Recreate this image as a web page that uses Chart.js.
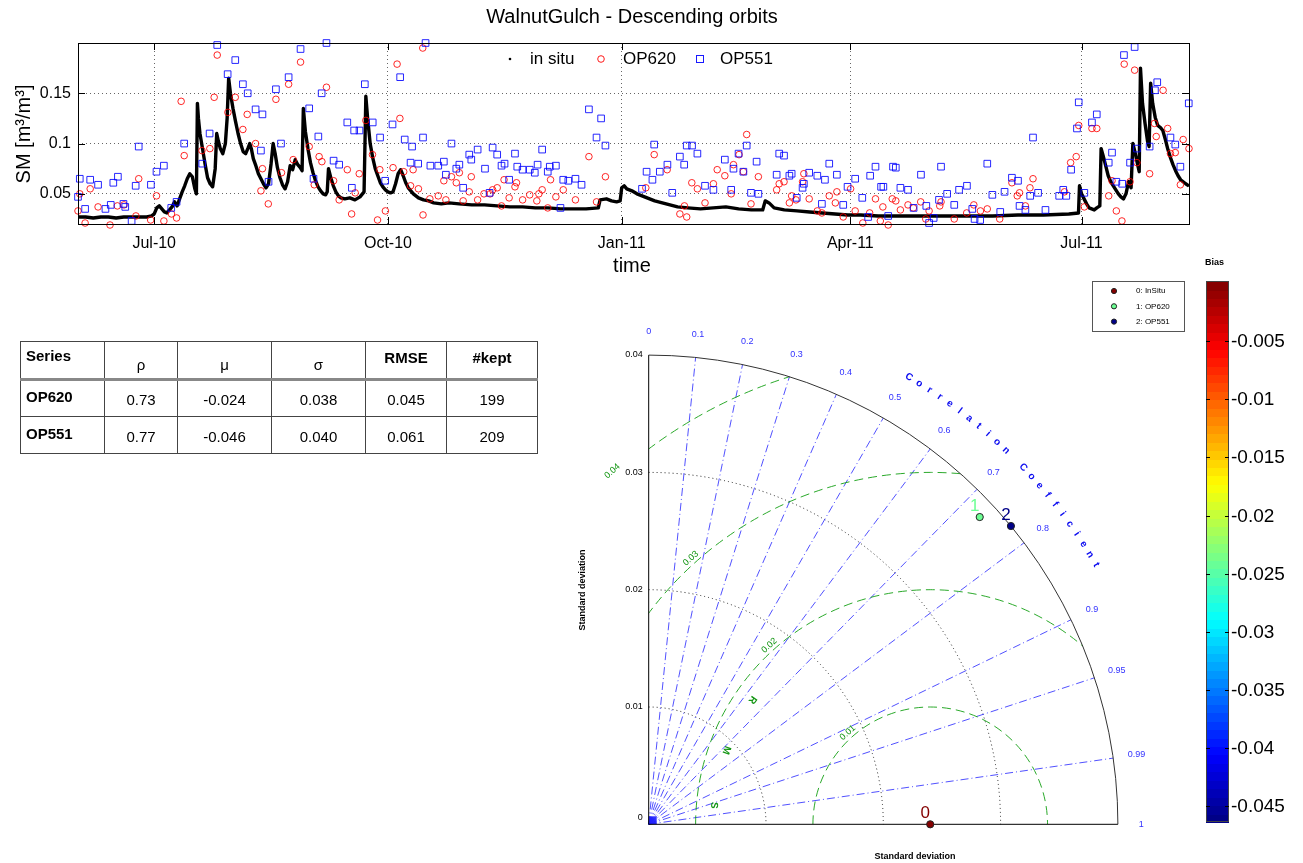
<!DOCTYPE html>
<html>
<head>
<meta charset="utf-8">
<script src="https://cdn.jsdelivr.net/npm/chart.js@4.4.0/dist/chart.umd.min.js"></script>
<style>
  body { margin: 0; background: #fff; width: 1303px; height: 863px; position: relative; overflow: hidden;
         font-family: "Liberation Sans", Arial, sans-serif; }
  canvas { position: absolute; left: 0; top: 0; }
  table.stats { position: absolute; left: 20px; top: 341px; border-collapse: collapse; font-size: 15px; color: #000;
                table-layout: fixed; width: 517px; }
  table.stats td, table.stats th { border: 1px solid #444; padding: 0; text-align: center; box-sizing: border-box; }
  table.stats tr.hdr { height: 38px; }
  table.stats tr.row { height: 37px; }
  table.stats th { font-weight: bold; vertical-align: top; padding-top: 7px; }
  table.stats th.greek { font-weight: normal; vertical-align: middle; padding-top: 8px; }
  table.stats .name { text-align: left; padding-left: 5px; font-weight: bold; }
  table.stats th.name { padding-top: 5px; }
  table.stats td { vertical-align: middle; padding-top: 2px; }
  table.stats td.name { padding-top: 0; padding-bottom: 4px; }
  table.stats tr.hdr th { border-bottom: 3px solid #888; }
</style>
</head>
<body>
<canvas id="taylorChart" width="1303" height="863"></canvas>
<canvas id="tsChart" width="1303" height="285"></canvas>
<table class="stats" id="statsTable"></table>
<script>
// ---- time series (day 0 = 1 Jun 2010) ----
const MONTH_TICKS = [30, 122, 214, 304, 395];
const MONTH_LABELS = ["Jul-10", "Oct-10", "Jan-11", "Apr-11", "Jul-11"];
const SM_TICKS = [0.05, 0.1, 0.15];

const INSITU = [
  [0,.027],[3,.027],[6,.026],[9,.027],[12,.027],[15,.026],[18,.027],[21,.027],[24,.027],[27,.027],[29,.028],
  [30,.030],[31,.036],[32,.038],[33,.035],[34,.032],[35,.031],[36,.034],[37,.037],[38,.042],[39,.038],[40,.045],
  [41,.052],[42,.058],[43,.065],[44,.070],[45,.067],[46,.055],[46.6,.050],[47,.140],[47.4,.125],[48,.110],[49,.095],
  [50,.080],[51,.066],[52,.060],[53,.057],[54,.075],[54.6,.110],[55.2,.103],[56,.095],[57,.090],[58,.100],[58.7,.125],
  [59.3,.165],[60,.150],[61,.135],[62,.122],[63,.110],[64,.100],[65,.092],[66,.090],[67,.096],[67.6,.100],[68.3,.094],
  [69,.085],[70,.078],[71,.070],[72,.065],[73,.060],[74,.056],[75,.060],[76,.080],[76.8,.100],[77.6,.090],[78.5,.076],
  [79.5,.066],[80.5,.059],[81.5,.055],[82.5,.062],[83.5,.078],[84.5,.074],[85.5,.084],[86.5,.079],[87.5,.076],[88.2,.073],
  [88.7,.135],[89.5,.112],[90.5,.095],[91.5,.081],[92.5,.071],[93.5,.063],[94.5,.057],[95.5,.053],[96.5,.050],[97.5,.049],
  [98.1,.052],[98.6,.075],[99.5,.066],[100.5,.058],[101.5,.052],[102.5,.048],[103.5,.046],[105,.045],[107,.046],[109,.044],
  [111,.047],[112.6,.052],[113.3,.147],[114,.125],[115,.100],[116,.086],[117,.075],[118,.068],[119,.061],[120,.057],
  [121,.054],[122,.052],[123,.051],[124,.052],[125,.060],[126,.070],[127,.074],[128,.068],[129,.061],[130,.056],
  [132,.050],[134,.046],[136,.044],[138,.043],[140,.041],[143,.040],[146,.041],[150,.040],[155,.039],[160,.039],
  [165,.038],[170,.037],[175,.037],[180,.036],[185,.036],[190,.035],[195,.035],[200,.035],[204.8,.036],[205.5,.044],
  [208,.045],[210,.043],[212,.042],[213.4,.043],[214,.056],[215,.058],[216,.055],[218,.053],[220,.050],[222,.048],
  [224,.046],[227,.043],[230,.041],[233,.039],[236,.037],[240,.036],[245,.035],[250,.036],[255,.037],[260,.035],
  [265,.034],[269.5,.034],[270.5,.043],[272,.041],[274,.036],[278,.034],[283,.033],[288,.032],[293,.031],[298,.030],
  [303,.029],[308,.029],[315,.028],[322,.028],[330,.028],[340,.028],[350,.028],[360,.028],[370,.029],[380,.029],
  [390,.030],[393.8,.031],[394.2,.058],[395,.050],[396,.045],[397,.040],[398,.036],[399,.035],[400,.034],[401,.036],
  [402.2,.038],[402.7,.095],[403.5,.088],[404.5,.078],[405.5,.068],[406.5,.062],[407.5,.058],[408.5,.054],[409.5,.050],
  [410.5,.047],[411.5,.045],[412.5,.050],[413.5,.062],[414.5,.056],[415.2,.100],[416,.092],[417,.080],[417.7,.072],
  [418.2,.175],[419,.140],[420,.120],[421,.102],[421.6,.097],[422.2,.160],[423,.140],[424,.126],[425,.118],[426,.116],
  [427,.113],[428,.104],[429,.094],[430,.086],[431,.079],[432,.073],[433,.068],[434,.064],[435,.062],[436,.060],[437.2,.058]
];

const OP620 = [
  [0,.033],[0.7,.050],[2.8,.021],[4.8,.055],[7.9,.037],[12.6,.019],[15.5,.038],[18.1,.039],[22.8,.028],[23.9,.065],
  [28.6,.024],[30.9,.048],[33.8,.023],[36.8,.030],[38.8,.026],[40.6,.142],[41.8,.088],[48.8,.093],[51.9,.095],[53.6,.146],
  [54.8,.188],[59.0,.131],[61.9,.146],[64.9,.114],[66.6,.129],[69.9,.100],[72.6,.075],[72.0,.053],[74.9,.040],[77.9,.144],
  [80.1,.071],[82.9,.159],[84.7,.084],[87.6,.181],[91.0,.097],[93.0,.059],[94.9,.087],[96.0,.082],[97.8,.156],[100.6,.063],
  [102.8,.044],[106.0,.074],[107.7,.030],[109.1,.051],[110.7,.070],[113.3,.123],[115.9,.089],[118.8,.074],[117.9,.024],
  [121.0,.033],[124.0,.076],[125.6,.179],[126.7,.125],[128.2,.072],[130.9,.058],[131.9,.074],[134.0,.055],[135.7,.195],
  [135.8,.029],[138.5,.045],[141.8,.048],[144.0,.063],[144.8,.044],[147.0,.067],[148.9,.061],[150.1,.071],[151.6,.043],
  [154.0,.052],[154.8,.067],[157.3,.044],[159.8,.050],[162.2,.050],[163.2,.054],[165.0,.056],[166.7,.038],[167.7,.064],
  [169.7,.046],[172.0,.057],[172.6,.061],[175.0,.044],[177.8,.049],[180.6,.043],[181.4,.050],[182.7,.054],[184.9,.036],
  [186.0,.064],[188.1,.047],[191.0,.054],[195.8,.044],[201.1,.087],[204.1,.042],[207.6,.067],[223.5,.056],[226.8,.089],
  [231.9,.074],[236.9,.030],[238.7,.038],[239.6,.027],[241.6,.061],[243.8,.055],[246.8,.041],[250.1,.060],[251.6,.074],
  [254.6,.068],[257.1,.050],[258.0,.079],[260.2,.089],[261.9,.072],[263.2,.109],[264.9,.040],[267.8,.067],[275.0,.054],
  [276.0,.060],[277.9,.062],[280.0,.041],[280.9,.048],[282.6,.044],[285.2,.062],[285.7,.070],[287.8,.045],[291.0,.033],
  [292.8,.031],[295.7,.048],[298.1,.041],[298.7,.052],[301.2,.027],[304.1,.055],[305.9,.033],[308.9,.021],[311.6,.031],
  [313.9,.045],[315.8,.023],[316.8,.037],[318.9,.019],[320.5,.045],[321.9,.043],[323.7,.034],[326.7,.039],[328.8,.036],
  [331.7,.042],[333.7,.025],[335.0,.033],[339.2,.038],[339.7,.042],[344.9,.025],[349.8,.031],[352.6,.039],[355.2,.033],
  [357.9,.035],[362.8,.025],[367.6,.061],[369.7,.048],[370.6,.051],[372.9,.038],[374.7,.056],[375.9,.065],[388.3,.052],
  [390.7,.081],[392.9,.087],[393.9,.118],[396.1,.037],[399.1,.115],[401.0,.115],[405.7,.048],[407.0,.063],[408.7,.033],
  [410.9,.023],[411.8,.179],[414.1,.062],[415.9,.173],[416.8,.081],[421.8,.070],[423.7,.120],[424.4,.107],[427.1,.153],
  [428.9,.115],[430.0,.090],[431.9,.091],[433.9,.059],[435.0,.104],[437.3,.095]
];

const OP551 = [
  [0,.047],[0.7,.065],[2.8,.035],[4.8,.064],[7.9,.059],[10.8,.035],[12.9,.039],[13.9,.061],[15.7,.067],[17.9,.040],
  [18.6,.037],[21.1,.023],[22.7,.058],[23.9,.097],[28.7,.059],[30.9,.072],[33.8,.078],[36.7,.036],[38.8,.042],[41.8,.100],
  [48.9,.080],[51.8,.110],[54.8,.198],[58.9,.169],[61.9,.183],[64.9,.159],[66.8,.150],[69.9,.134],[72.6,.129],[72.0,.093],
  [75.0,.062],[77.9,.154],[79.9,.100],[82.9,.166],[87.6,.194],[91.0,.135],[92.7,.065],[94.6,.107],[95.9,.150],[97.8,.200],
  [100.6,.083],[102.8,.079],[106.0,.121],[107.8,.056],[108.7,.113],[110.8,.113],[112.9,.159],[116.0,.121],[118.9,.106],
  [120.9,.063],[123.8,.119],[126.8,.166],[128.6,.104],[131.5,.097],[130.9,.081],[133.9,.080],[135.8,.106],[136.8,.200],
  [138.7,.078],[141.8,.078],[144.0,.082],[144.8,.069],[147.0,.100],[148.9,.075],[150.1,.079],[151.6,.056],[154.0,.089],
  [154.8,.084],[157.3,.094],[160.2,.075],[162.0,.051],[163.2,.096],[165.0,.089],[166.7,.078],[167.9,.080],[169.7,.064],
  [172.0,.090],[172.9,.077],[175.0,.074],[177.8,.074],[179.8,.071],[180.9,.079],[182.7,.094],[184.9,.072],[185.7,.077],
  [188.1,.078],[189.9,.036],[191.0,.064],[193.0,.063],[195.8,.065],[198.2,.059],[201.1,.134],[204.1,.106],[205.9,.125],
  [207.6,.098],[222.0,.055],[223.8,.072],[226.1,.064],[226.8,.099],[229.0,.072],[232.0,.079],[233.9,.051],[236.9,.087],
  [238.6,.079],[239.6,.098],[241.7,.098],[243.8,.090],[246.8,.058],[250.1,.054],[254.6,.084],[257.1,.054],[258.0,.075],
  [260.0,.090],[261.9,.072],[263.2,.098],[264.9,.051],[267.1,.082],[267.8,.050],[275.0,.069],[276.0,.090],[277.9,.088],
  [280.0,.068],[280.9,.070],[282.9,.046],[285.2,.056],[285.7,.060],[287.8,.071],[291.0,.068],[292.8,.040],[294.0,.064],
  [295.7,.080],[298.7,.069],[301.2,.039],[302.9,.057],[305.9,.065],[308.7,.046],[311.0,.027],[311.8,.068],[313.9,.077],
  [316.1,.057],[317.0,.057],[318.9,.028],[320.8,.077],[321.9,.076],[323.7,.056],[326.7,.054],[328.9,.036],[331.8,.069],
  [333.9,.038],[335.0,.021],[336.8,.026],[338.9,.044],[339.7,.077],[342.1,.050],[344.9,.039],[346.8,.054],[349.9,.058],
  [352.0,.035],[352.9,.025],[355.1,.024],[357.9,.080],[359.9,.049],[363.0,.032],[364.7,.052],[367.6,.066],[370.0,.063],
  [370.6,.038],[372.9,.034],[374.8,.048],[375.9,.106],[377.9,.051],[380.8,.034],[386.2,.048],[387.8,.054],[389.0,.048],
  [390.9,.074],[393.2,.115],[393.9,.141],[396.1,.051],[399.1,.121],[401.0,.129],[405.7,.081],[407.0,.091],[408.7,.062],
  [411.0,.060],[411.7,.188],[414.1,.081],[415.9,.196],[416.8,.095],[421.8,.097],[423.9,.153],[424.8,.161],[430.0,.106],
  [431.9,.099],[433.9,.077],[437.2,.140]
];

// ---- Taylor diagram ----
const TAYLOR_NAMES = ["InSitu", "OP620", "OP551"];
const TAYLOR_STD = [0.024, 0.0385, 0.040];
const TAYLOR_CORR = [1, 0.733, 0.772];
const TAYLOR_BIAS = [0, -0.024, -0.046];
const STD_MAX = 0.04;
const STD_ARCS = [0.01, 0.02, 0.03];
const STD_TICKS = [0, 0.01, 0.02, 0.03, 0.04];
const RMS_ARCS = [0.01, 0.02, 0.03, 0.04];
const CORR_TICKS = [0, 0.1, 0.2, 0.3, 0.4, 0.5, 0.6, 0.7, 0.8, 0.9, 0.95, 0.99, 1];
const BIAS_RANGE = [-0.0464, 0.0002];
const BIAS_TICKS = [-0.005, -0.01, -0.015, -0.02, -0.025, -0.03, -0.035, -0.04, -0.045];

// ---- statistics table ----
const TABLE_HEAD = ["Series", "ρ", "μ", "σ", "RMSE", "#kept"];
const TABLE_SERIES = ["OP620", "OP551"];
const TABLE_RHO = ["0.73", "0.77"];
const TABLE_MU = ["-0.024", "-0.046"];
const TABLE_SIGMA = ["0.038", "0.040"];
const TABLE_RMSE = ["0.045", "0.061"];
const TABLE_KEPT = ["199", "209"];

const FONT = '"Liberation Sans", Arial, sans-serif';

function jet(t) {
  const c = v => Math.round(255 * Math.max(0, Math.min(1, v)));
  return "rgb(" + c(1.5 - Math.abs(4 * t - 3)) + "," + c(1.5 - Math.abs(4 * t - 2)) + "," + c(1.5 - Math.abs(4 * t - 1)) + ")";
}
function biasT(b) {
  return (b - BIAS_RANGE[0]) / (BIAS_RANGE[1] - BIAS_RANGE[0]);
}

// table
(function buildTable() {
  const tbl = document.getElementById("statsTable");
  const widths = [84, 73, 94, 94, 81, 91];
  let html = "<colgroup>" + widths.map(w => '<col style="width:' + w + 'px">').join("") + "</colgroup>";
  html += '<tr class="hdr">';
  TABLE_HEAD.forEach((h, i) => {
    const cls = i === 0 ? "name" : (i <= 3 ? "greek" : "");
    html += '<th class="' + cls + '">' + h + "</th>";
  });
  html += "</tr>";
  TABLE_SERIES.forEach((s, i) => {
    html += '<tr class="row"><td class="name">' + s + "</td><td>" + TABLE_RHO[i] + "</td><td>" + TABLE_MU[i] +
            "</td><td>" + TABLE_SIGMA[i] + "</td><td>" + TABLE_RMSE[i] + "</td><td>" + TABLE_KEPT[i] + "</td></tr>";
  });
  tbl.innerHTML = html;
})();

// decorations of the time series plot (box, inner ticks, title, legend)
const tsDecor = {
  id: "tsDecor",
  afterDraw(chart) {
    const { ctx, chartArea: a, scales: { x, y } } = chart;
    ctx.save();
    ctx.strokeStyle = "#000";
    ctx.lineWidth = 1;
    ctx.strokeRect(Math.round(a.left) + 0.5, Math.round(a.top) + 0.5, Math.round(a.right - a.left), Math.round(a.bottom - a.top));
    ctx.beginPath();
    MONTH_TICKS.forEach(v => {
      const p = Math.round(x.getPixelForValue(v)) + 0.5;
      ctx.moveTo(p, a.bottom); ctx.lineTo(p, a.bottom - 7);
      ctx.moveTo(p, a.top); ctx.lineTo(p, a.top + 7);
    });
    SM_TICKS.forEach(v => {
      const p = Math.round(y.getPixelForValue(v)) + 0.5;
      ctx.moveTo(a.left, p); ctx.lineTo(a.left + 7, p);
      ctx.moveTo(a.right, p); ctx.lineTo(a.right - 7, p);
    });
    ctx.stroke();

    ctx.fillStyle = "#000";
    ctx.textAlign = "center";
    ctx.textBaseline = "middle";
    ctx.font = "20px " + FONT;
    ctx.fillText("WalnutGulch - Descending orbits", 632, 17);
    ctx.fillText("time", 632, 266);
    ctx.save();
    ctx.translate(24, 134);
    ctx.rotate(-Math.PI / 2);
    ctx.fillText("SM [m³/m³]", 0, 0);
    ctx.restore();

    // legend
    const ly = 59;
    ctx.font = "17px " + FONT;
    ctx.textAlign = "left";
    ctx.beginPath(); ctx.arc(510, ly, 1.3, 0, Math.PI * 2); ctx.fill();
    ctx.fillText("in situ", 530, ly);
    ctx.strokeStyle = "rgba(255,0,0,0.9)";
    ctx.beginPath(); ctx.arc(601, ly, 3.3, 0, Math.PI * 2); ctx.stroke();
    ctx.fillText("OP620", 623, ly);
    ctx.strokeStyle = "rgba(0,0,255,0.9)";
    ctx.strokeRect(696.5, ly - 3.5, 7, 7);
    ctx.fillText("OP551", 720, ly);
    ctx.restore();
  }
};

const toXY = arr => arr.map(p => ({ x: p[0], y: p[1] }));

new Chart(document.getElementById("tsChart").getContext("2d"), {
  type: "scatter",
  data: {
    datasets: [
      {
        label: "in situ", data: toXY(INSITU), showLine: true, order: 3,
        borderColor: "#000", borderWidth: 3.4, pointRadius: 1, pointBackgroundColor: "#000",
        pointBorderWidth: 0, borderJoinStyle: "round"
      },
      {
        label: "OP620", data: toXY(OP620), order: 2, clip: 6,
        pointStyle: "circle", pointRadius: 3.3, borderColor: "rgba(255,0,0,0.85)",
        backgroundColor: "rgba(0,0,0,0)", pointBorderWidth: 1
      },
      {
        label: "OP551", data: toXY(OP551), order: 1, clip: 6,
        pointStyle: "rect", pointRadius: 4.7, borderColor: "rgba(0,0,255,0.85)",
        backgroundColor: "rgba(0,0,0,0)", pointBorderWidth: 1
      }
    ]
  },
  options: {
    responsive: false,
    animation: false,
    layout: { padding: { left: 0, right: 114, top: 43, bottom: 0 } },
    plugins: { legend: { display: false }, tooltip: { enabled: false } },
    scales: {
      x: {
        type: "linear", min: 0, max: 437.3,
        afterBuildTicks: s => { s.ticks = MONTH_TICKS.map(v => ({ value: v })); },
        afterFit: s => { s.height = 61; },
        ticks: {
          autoSkip: false, maxRotation: 0, padding: 10, color: "#000",
          font: { size: 16, family: FONT },
          callback: v => MONTH_LABELS[MONTH_TICKS.indexOf(v)]
        },
        grid: { color: "#666", drawTicks: false },
        border: { display: false, dash: [1, 3] }
      },
      y: {
        type: "linear", min: 0.02, max: 0.2,
        afterBuildTicks: s => { s.ticks = SM_TICKS.map(v => ({ value: v })); },
        afterFit: s => { s.width = 78; },
        ticks: {
          padding: 7, color: "#000", font: { size: 16, family: FONT },
          callback: v => String(v)
        },
        grid: { color: "#666", drawTicks: false },
        border: { display: false, dash: [1, 3] }
      }
    }
  },
  plugins: [tsDecor]
});

// Taylor diagram grid, labels, legend and colour bar
const taylorDecor = {
  id: "taylorDecor",
  beforeDatasetsDraw(chart) {
    const { ctx, scales: { x, y } } = chart;
    const ox = x.getPixelForValue(0), oy = y.getPixelForValue(0);
    const k = (x.getPixelForValue(STD_MAX) - ox) / STD_MAX;
    const R = STD_MAX * k;
    ctx.save();
    // standard deviation arcs
    ctx.strokeStyle = "#222"; ctx.lineWidth = 1; ctx.setLineDash([1, 3]);
    STD_ARCS.forEach(s => { ctx.beginPath(); ctx.arc(ox, oy, s * k, -Math.PI / 2, 0); ctx.stroke(); });
    // correlation rays
    ctx.strokeStyle = "rgba(50,50,255,0.85)"; ctx.setLineDash([8, 3, 1, 3]);
    CORR_TICKS.forEach(c => {
      if (c === 0 || c === 1) return;
      const t = Math.acos(c);
      ctx.beginPath(); ctx.moveTo(ox, oy); ctx.lineTo(ox + R * Math.cos(t), oy - R * Math.sin(t)); ctx.stroke();
    });
    ctx.setLineDash([]);
    ctx.fillStyle = "rgba(30,30,255,0.9)";
    ctx.fillRect(ox, oy - 8, 8, 8);
    // centred RMS arcs
    const cx = x.getPixelForValue(TAYLOR_STD[0]);
    ctx.save();
    ctx.beginPath(); ctx.moveTo(ox, oy); ctx.arc(ox, oy, R, -Math.PI / 2, 0); ctx.closePath(); ctx.clip();
    ctx.strokeStyle = "rgba(20,160,20,0.9)"; ctx.setLineDash([9, 5]);
    RMS_ARCS.forEach(r => { ctx.beginPath(); ctx.arc(cx, oy, r * k, Math.PI, 0); ctx.stroke(); });
    ctx.restore();
    // outer arc and axes
    ctx.setLineDash([]);
    ctx.strokeStyle = "#333";
    ctx.beginPath(); ctx.arc(ox, oy, R, -Math.PI / 2, 0); ctx.stroke();
    ctx.strokeStyle = "#000";
    ctx.beginPath(); ctx.moveTo(ox, oy - R); ctx.lineTo(ox, oy); ctx.lineTo(ox + R, oy); ctx.stroke();

    // RMS labels
    ctx.fillStyle = "rgb(20,150,20)";
    ctx.font = "9px " + FONT;
    ctx.textAlign = "center"; ctx.textBaseline = "middle";
    RMS_ARCS.forEach(r => {
      const phi = 132 * Math.PI / 180;
      const rr = r * k + 6;
      ctx.save();
      ctx.translate(cx + rr * Math.cos(phi), oy - rr * Math.sin(phi));
      ctx.rotate(-(phi - Math.PI / 2));
      ctx.fillText(String(r), 0, 0);
      ctx.restore();
    });
    ctx.font = "bold 10px " + FONT;
    ["R", "M", "S"].forEach((ch, i) => {
      const phi = (145 + i * 15) * Math.PI / 180;
      const rr = 0.0185 * k;
      ctx.save();
      ctx.translate(cx + rr * Math.cos(phi), oy - rr * Math.sin(phi));
      ctx.rotate(Math.PI / 2 - phi + Math.PI);
      ctx.fillText(ch, 0, 0);
      ctx.restore();
    });

    // correlation labels
    ctx.fillStyle = "rgb(50,50,255)";
    ctx.font = "9px " + FONT;
    CORR_TICKS.forEach(c => {
      const t = Math.acos(c), rr = 0.042 * k;
      ctx.fillText(String(c), ox + rr * Math.cos(t), oy - rr * Math.sin(t));
    });
    ctx.fillStyle = "rgb(10,10,240)";
    ctx.font = "bold 10px " + FONT;
    const word = "Correlation Coefficient";
    for (let i = 0; i < word.length; i++) {
      const t = (59.8 - i * 1.35) * Math.PI / 180, rr = 0.0441 * k;
      ctx.save();
      ctx.translate(ox + rr * Math.cos(t), oy - rr * Math.sin(t));
      ctx.rotate(Math.PI / 2 - t);
      ctx.fillText(word[i], 0, 0);
      ctx.restore();
    }

    // std tick labels and axis titles
    ctx.fillStyle = "#000";
    ctx.font = "9px " + FONT;
    ctx.textAlign = "right";
    STD_TICKS.forEach(s => {
      ctx.fillText(String(s), ox - 6, y.getPixelForValue(s) - (s === 0 ? 7 : 0));
    });
    ctx.font = "bold 9px " + FONT;
    ctx.textAlign = "center";
    ctx.fillText("Standard deviation", 915, 857);
    ctx.save();
    ctx.translate(583, 590);
    ctx.rotate(-Math.PI / 2);
    ctx.fillText("Standard deviation", 0, 0);
    ctx.restore();
    ctx.restore();
  },
  afterDatasetsDraw(chart) {
    const { ctx } = chart;
    const meta = chart.getDatasetMeta(0);
    ctx.save();
    ctx.font = "17px " + FONT;
    ctx.textAlign = "center"; ctx.textBaseline = "middle";
    meta.data.forEach((pt, i) => {
      ctx.fillStyle = jet(biasT(TAYLOR_BIAS[i]));
      ctx.fillText(String(i), pt.x - 5, pt.y - 11);
    });

    // legend box
    ctx.strokeStyle = "#555"; ctx.lineWidth = 1;
    ctx.strokeRect(1092.5, 281.5, 92, 50);
    ctx.font = "8px " + FONT;
    ctx.textAlign = "left";
    TAYLOR_NAMES.forEach((n, i) => {
      const ly = 291 + i * 15.3;
      ctx.fillStyle = jet(biasT(TAYLOR_BIAS[i]));
      ctx.beginPath(); ctx.arc(1114, ly, 2.6, 0, Math.PI * 2); ctx.fill();
      ctx.strokeStyle = "#222"; ctx.stroke();
      ctx.fillStyle = "#000";
      ctx.fillText(i + ": " + n, 1136, ly);
    });

    // colour bar
    const cb = { left: 1206, right: 1229, top: 281, bottom: 822 };
    const h = cb.bottom - cb.top, n = 64;
    for (let i = 0; i < n; i++) {
      ctx.fillStyle = jet((i + 0.5) / n);
      const y0 = cb.bottom - (i + 1) * h / n;
      ctx.fillRect(cb.left, Math.floor(y0), cb.right - cb.left, Math.ceil(h / n) + 1);
    }
    ctx.strokeStyle = "#444";
    ctx.strokeRect(cb.left + 0.5, cb.top + 0.5, cb.right - cb.left - 1, h - 1);
    ctx.strokeStyle = "#000";
    ctx.fillStyle = "#000";
    ctx.font = "19px " + FONT;
    BIAS_TICKS.forEach(b => {
      const yy = Math.round(cb.top + (BIAS_RANGE[1] - b) / (BIAS_RANGE[1] - BIAS_RANGE[0]) * h) + 0.5;
      ctx.beginPath();
      ctx.moveTo(cb.left, yy); ctx.lineTo(cb.left + 4, yy);
      ctx.moveTo(cb.right, yy); ctx.lineTo(cb.right - 4, yy);
      ctx.stroke();
      ctx.fillText(String(b), cb.right + 2, yy);
    });
    ctx.font = "bold 9px " + FONT;
    ctx.fillText("Bias", 1205, 263);
    ctx.restore();
  }
};

new Chart(document.getElementById("taylorChart").getContext("2d"), {
  type: "scatter",
  data: {
    datasets: [{
      label: "Taylor",
      data: TAYLOR_STD.map((s, i) => ({ x: s * TAYLOR_CORR[i], y: s * Math.sqrt(1 - TAYLOR_CORR[i] * TAYLOR_CORR[i]) })),
      pointRadius: 3.6,
      pointBackgroundColor: TAYLOR_BIAS.map(b => jet(biasT(b))),
      pointBorderColor: "#222",
      pointBorderWidth: 1,
      clip: false
    }]
  },
  options: {
    responsive: false,
    animation: false,
    layout: { padding: { left: 648.7, top: 355, right: 185.1, bottom: 38.7 } },
    plugins: { legend: { display: false }, tooltip: { enabled: false } },
    scales: {
      x: { type: "linear", min: 0, max: STD_MAX, display: false },
      y: { type: "linear", min: 0, max: STD_MAX, display: false }
    }
  },
  plugins: [taylorDecor]
});
</script>
</body>
</html>
